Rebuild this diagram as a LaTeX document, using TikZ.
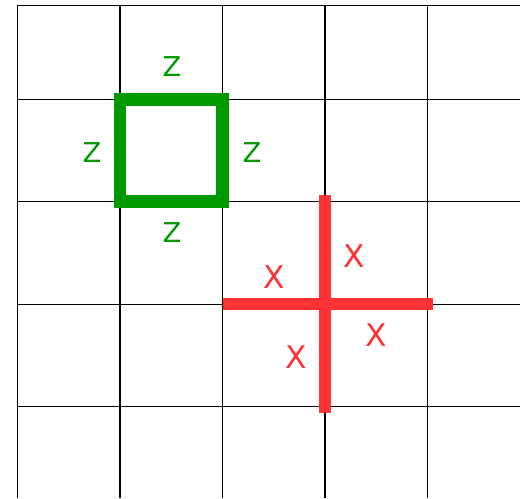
\documentclass[tikz,border=0pt]{standalone}
\usepackage{fontspec}
\setmainfont{DejaVu Sans}
\usepackage{xcolor}
\definecolor{sqgreen}{HTML}{009900}
\definecolor{crossred}{HTML}{FF3333}
\usepackage{tikz}

\begin{document}
\begin{tikzpicture}[every node/.style={inner sep=0pt}]
\useasboundingbox (-0.173,0.970) rectangle (4.905,-3.894);
% grid
\draw[black, line width=0.35pt] (0,0.92) -- (4.905,0.92);
\foreach \y in {0,-1,-2,-3}{
  \draw[black, line width=0.35pt] (0,\y) -- (4.905,\y);
}
\foreach \x in {0,...,4}{
  \draw[black, line width=0.35pt] (\x,0.92) -- (\x,-3.894);
}
% square
\draw[draw=sqgreen, line width=3.5pt, line join=miter] (1,0) rectangle (2,-1);
\node[text=sqgreen, font=\fontsize{7.6}{9}\selectfont] (zt) at (1.507,0.325) {Z};
\node[text=sqgreen, font=\fontsize{7.6}{9}\selectfont] (zl) at (0.726,-0.524) {Z};
\node[text=sqgreen, font=\fontsize{7.6}{9}\selectfont] (zr) at (2.288,-0.524) {Z};
\node[text=sqgreen, font=\fontsize{7.6}{9}\selectfont] (zb) at (1.507,-1.296) {Z};
% cross
\coordinate (crossw) at (2,-2);
\coordinate (crosse) at (4.056,-2);
\coordinate (crossn) at (3,-0.935);
\coordinate (crosss) at (3,-3.063);
\draw[draw=crossred, line width=3.3pt] (crossw) -- (crosse);
\draw[draw=crossred, line width=3.3pt] (crossn) -- (crosss);
\node[text=crossred, font=\fontsize{8.7}{10}\selectfont] (xnw) at (2.508,-1.740) {X};
\node[text=crossred, font=\fontsize{8.7}{10}\selectfont] (xne) at (3.289,-1.530) {X};
\node[text=crossred, font=\fontsize{8.7}{10}\selectfont] (xse) at (3.499,-2.302) {X};
\node[text=crossred, font=\fontsize{8.7}{10}\selectfont] (xsw) at (2.718,-2.516) {X};
\end{tikzpicture}
\end{document}
